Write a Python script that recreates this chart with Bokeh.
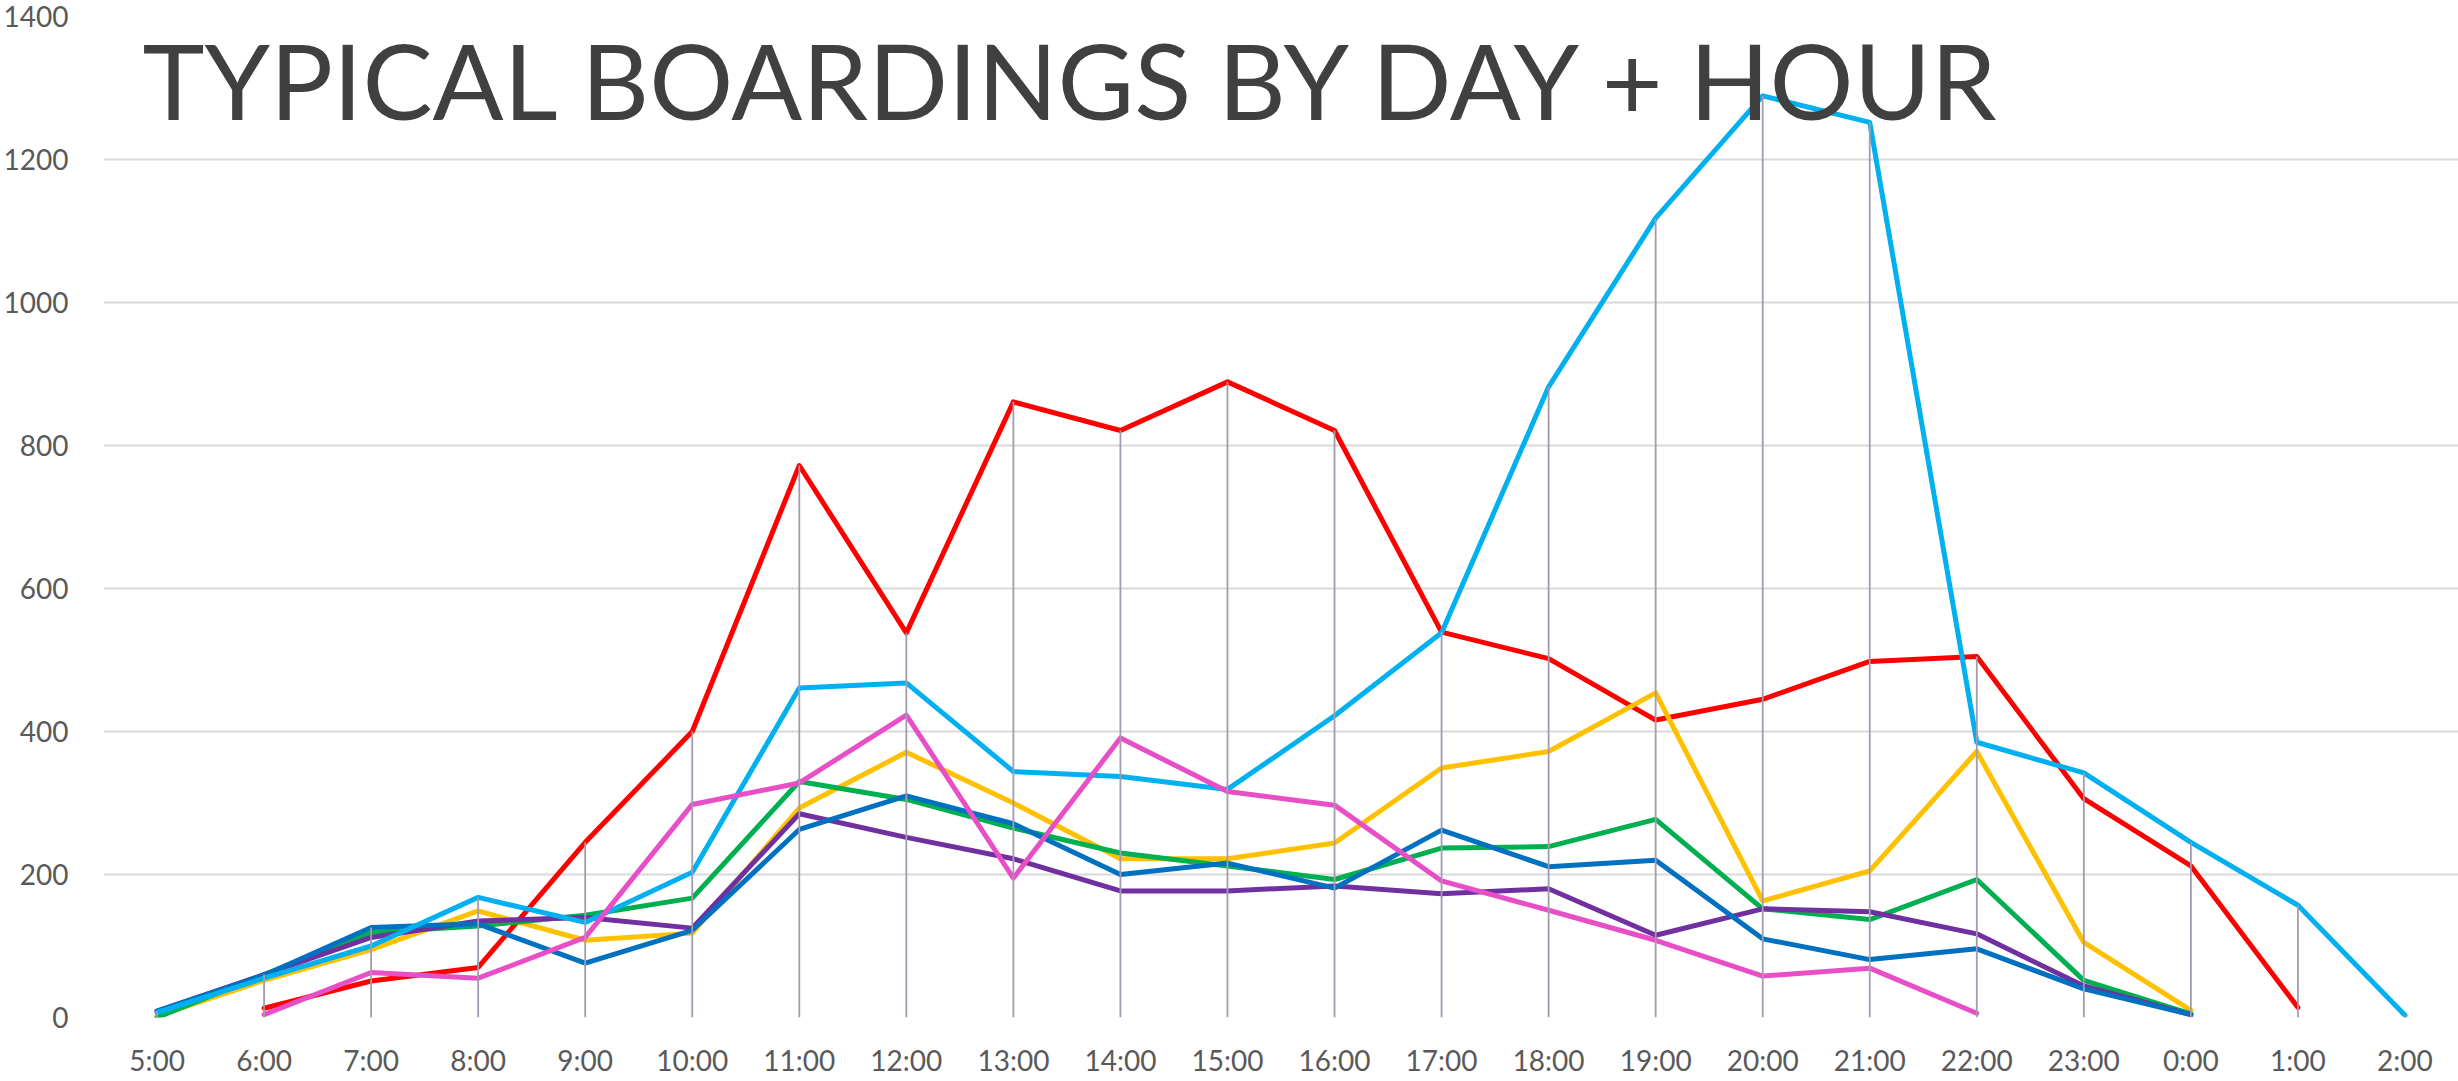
import math
from bokeh.plotting import figure
from bokeh.models import FixedTicker, Label, Range1d, FactorRange
from bokeh.embed import file_html
from bokeh.resources import INLINE

hours = ["5:00", "6:00", "7:00", "8:00", "9:00", "10:00", "11:00", "12:00",
         "13:00", "14:00", "15:00", "16:00", "17:00", "18:00", "19:00", "20:00",
         "21:00", "22:00", "23:00", "0:00", "1:00", "2:00"]

y_ticks = [0, 200, 400, 600, 800, 1000, 1200, 1400]

title_text = "TYPICAL BOARDINGS BY DAY + HOUR"

red_series = [None, 13, 51, 70, 245, 400, 772, 538, 861, 821, 889, 821,
              539, 502, 416, 445, 498, 505, 306, 212, 14, None]
yellow_series = [2, 52, 95, 149, 108, 118, 293, 371, 300, 222, 222, 244,
                 349, 372, 454, 163, 205, 372, 105, 10, None, None]
green_series = [0, 60, 119, 128, 143, 167, 330, 305, 265, 230, 212, 193,
                237, 239, 277, 152, 137, 193, 52, 5, None, None]
purple_series = [9, 60, 112, 135, 140, 125, 285, 252, 222, 177, 177, 184,
                 173, 180, 115, 152, 148, 117, 44, 4, None, None]
darkblue_series = [9, 59, 126, 131, 76, 122, 263, 310, 271, 200, 216, 181,
                   262, 211, 220, 110, 81, 96, 40, 4, None, None]
lightblue_series = [7, 55, 100, 168, 133, 203, 461, 468, 344, 337, 319, 422,
                    538, 882, 1118, 1289, 1252, 385, 342, 245, 157, 3]
pink_series = [None, 4, 63, 55, 112, 298, 328, 423, 195, 391, 316, 297,
               191, 150, 108, 58, 69, 6, None, None, None, None]

series = [
    (red_series, "#FF0000"),
    (yellow_series, "#FFC000"),
    (green_series, "#00B050"),
    (purple_series, "#7030A0"),
    (darkblue_series, "#0070C0"),
    (lightblue_series, "#00B0F0"),
    (pink_series, "#E84EC6"),
]


def clean(vals):
    return [float("nan") if v is None else v for v in vals]


# highest value per hour, for the drop lines
drop_tops = []
for i in range(len(hours)):
    vals = [s[i] for s, _ in series if s[i] is not None]
    drop_tops.append(max(vals) if vals else 0)

p = figure(
    x_range=FactorRange(*hours),
    y_range=Range1d(0, 1400),
    width=2458, height=1081,
    output_backend="svg", toolbar_location=None,
    min_border_left=102, min_border_right=0,
    min_border_top=16, min_border_bottom=64,
)
p.outline_line_color = None
p.background_fill_color = "white"
p.border_fill_color = "white"

p.xgrid.grid_line_color = None
p.ygrid.grid_line_color = "#D9D9D9"
p.ygrid.grid_line_width = 2
p.yaxis.ticker = FixedTicker(ticks=y_ticks)

for ax in (p.xaxis[0], p.yaxis[0]):
    ax.axis_line_color = None
    ax.major_tick_line_color = None
    ax.minor_tick_line_color = None
    ax.major_label_text_font = "Lato"
    ax.major_label_text_font_size = "28px"
    ax.major_label_text_color = "#595959"
p.xaxis.major_label_standoff = 19
p.yaxis.major_label_standoff = 29

for vals, color in series:
    p.line(hours, clean(vals), line_color=color, line_width=5,
           line_join="round", line_cap="round")

p.segment(x0=hours, y0=[0] * len(hours), x1=hours, y1=drop_tops,
          line_color="#A39BAE", line_width=1.8)

p.add_layout(Label(x=39, y=939, x_units="screen", y_units="screen",
                   text=title_text, text_font="Lato", text_font_size="105px",
                   text_color="#404040", text_baseline="alphabetic"))

open("out.html", "w").write(file_html(p, INLINE))
